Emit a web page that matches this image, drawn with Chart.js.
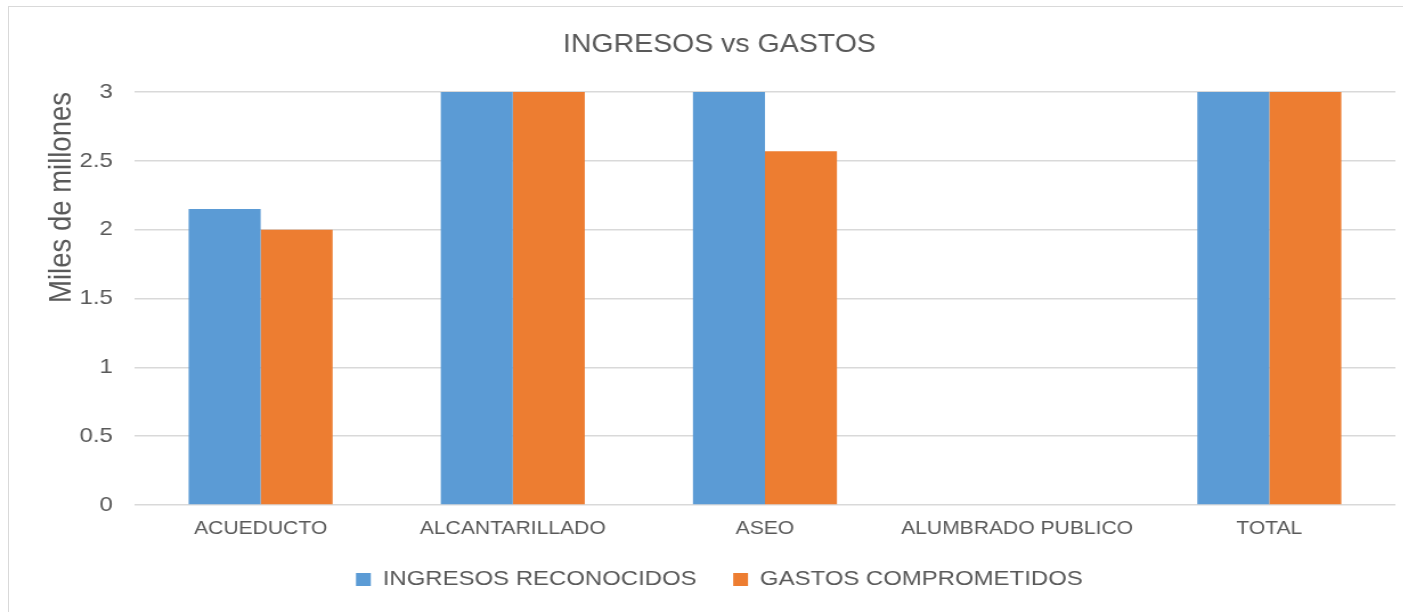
<!DOCTYPE html>
<html>
<head>
<meta charset="utf-8">
<script src="https://cdn.jsdelivr.net/npm/chart.js@4/dist/chart.umd.min.js"></script>
<style>
  html, body { margin: 0; padding: 0; background: #fff; overflow: hidden; }
  #frame {
    position: absolute; left: 8px; top: 6px;
    width: 1400px; height: 610px;
    border: 1px solid #d9d9d9; box-sizing: border-box;
  }
  /* the reference picture is stretched sideways, so the chart is too */
  #stretch {
    position: absolute; left: 8px; top: 6px;
    width: 1228px; height: 610px;
    transform: scaleX(1.14); transform-origin: 0 0;
  }
  #stretch canvas { display: block; }
</style>
</head>
<body>
<div id="frame"></div>
<div id="stretch"><canvas id="chart" width="1228" height="610"></canvas></div>
<script>
// Valores en miles de millones (los que pasan de 3 quedan recortados en el gráfico)
const categories = ["ACUEDUCTO", "ALCANTARILLADO", "ASEO", "ALUMBRADO PUBLICO", "TOTAL"];
const ingresos = [2.15, 3.4, 3.1, 0, 8.65];
const gastos = [2.0, 3.3, 2.57, 0, 7.87];
const yTicks = [0, 0.5, 1, 1.5, 2, 2.5, 3];

document.addEventListener("DOMContentLoaded", () => {

    const ctx = document.getElementById("chart");
    const txt = "#595959";
    const font = "'Liberation Sans', Arial, sans-serif";

    new Chart(ctx, {
        type: "bar",
        data: {
            labels: categories,
            datasets: [
                {
                    label: "INGRESOS RECONOCIDOS",
                    data: ingresos,
                    backgroundColor: "#5B9BD5",
                    barPercentage: 1,
                    categoryPercentage: 0.571
                },
                {
                    label: "GASTOS COMPROMETIDOS",
                    data: gastos,
                    backgroundColor: "#ED7D31",
                    barPercentage: 1,
                    categoryPercentage: 0.571
                }
            ]
        },
        options: {
            responsive: false,
            animation: false,
            layout: { padding: { left: 31, right: 11, top: 24, bottom: 16 } },
            plugins: {
                title: {
                    display: true,
                    text: "INGRESOS vs GASTOS",
                    color: txt,
                    font: { family: font, size: 25, weight: "normal" },
                    padding: { top: 0, bottom: 32 }
                },
                legend: {
                    position: "bottom",
                    labels: {
                        color: txt,
                        font: { family: font, size: 21 },
                        boxWidth: 13,
                        boxHeight: 13,
                        padding: 32
                    }
                },
                tooltip: { enabled: false }
            },
            scales: {
                x: {
                    grid: { display: false, drawTicks: false },
                    border: { display: false },
                    ticks: {
                        color: txt,
                        font: { family: font, size: 18.5 },
                        padding: 13,
                        maxRotation: 0
                    },
                    afterFit: scale => { scale.height = 32; }
                },
                y: {
                    min: 0,
                    max: 3,
                    afterBuildTicks: axis => {
                        axis.ticks = yTicks.map(v => ({ value: v }));
                    },
                    grid: { color: "#d9d9d9", lineWidth: 1.5, drawTicks: false },
                    border: { display: false },
                    ticks: {
                        color: txt,
                        font: { family: font, size: 21 },
                        padding: 19,
                        callback: v => String(v)
                    },
                    title: {
                        display: true,
                        text: "Miles de millones",
                        align: "end",
                        color: txt,
                        font: { family: font, size: 27.5 },
                        padding: { top: 0, bottom: 1 }
                    },
                    afterFit: scale => { scale.width = 80; }
                }
            }
        }
    });

});
</script>
</body>
</html>
